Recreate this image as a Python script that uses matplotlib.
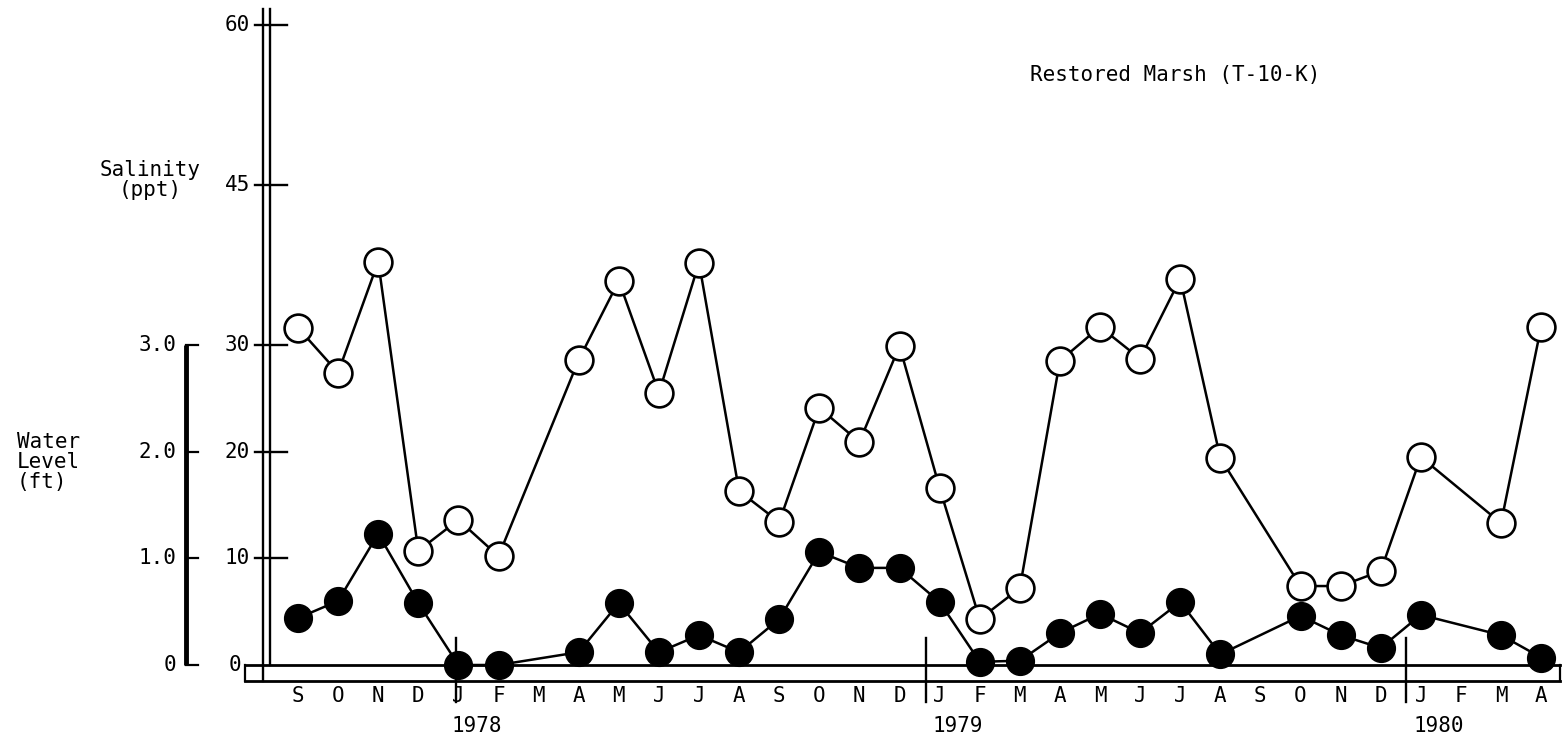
import numpy as np
import matplotlib.pyplot as plt

# months Sep 1977 .. Apr 1980
months = ['S', 'O', 'N', 'D', 'J', 'F', 'M', 'A', 'M', 'J', 'J', 'A',
          'S', 'O', 'N', 'D', 'J', 'F', 'M', 'A', 'M', 'J', 'J', 'A',
          'S', 'O', 'N', 'D', 'J', 'F', 'M', 'A']
years = ['1978', '1979', '1980']
year_start = [4, 16, 28]

# salinity (ppt), None = no sample
salinity = [31.6, 27.4, 37.8, 10.7, 13.6, 10.2, None, 28.6, 36.0, 25.5, 37.7, 16.3,
            13.4, 24.1, 20.9, 29.9, 16.6, 4.3, 7.2, 28.5, 31.7, 28.7, 36.2, 19.4,
            None, 7.4, 7.4, 8.8, 19.5, None, 13.3, 31.7]
# water level (ft)
water = [0.44, 0.60, 1.23, 0.58, 0.0, 0.0, None, 0.12, 0.58, 0.12, 0.28, 0.12,
         0.43, 1.06, 0.91, 0.91, 0.59, 0.03, 0.04, 0.30, 0.48, 0.30, 0.59, 0.10,
         None, 0.46, 0.28, 0.16, 0.47, None, 0.28, 0.07]

sal_ticks = [0, 10, 20, 30, 45, 60]
wl_ticks = [0, 1.0, 2.0, 3.0]
wl_labels = ['0', '1.0', '2.0', '3.0']

W, H = 1562, 749
fig = plt.figure(figsize=(W / 100, H / 100), dpi=100)

# pixel layout
x0_px, dx_px = 298, 40.1      # month 0 position, px per month
y0_px, dy_px = 665, 10.67     # salinity 0 position, px per ppt
left_px, right_px = 262, 1562
ylo, yhi = -2.0, 61.0
ax = fig.add_axes([left_px / W, 1 - (y0_px - ylo * dy_px) / H,
                   (right_px - left_px) / W, (yhi - ylo) * dy_px / H])
ax.set_xlim((left_px - x0_px) / dx_px, (right_px - x0_px) / dx_px)
ax.set_ylim(ylo, yhi)
ax.axis('off')

def px2x(px):
    return (px - x0_px) / dx_px

mono = 'DejaVu Sans Mono'
fs = 15

idx = np.arange(len(months))
s_idx = [i for i in idx if salinity[i] is not None]
s_val = [salinity[i] for i in s_idx]
w_idx = [i for i in idx if water[i] is not None]
w_val = [water[i] * 10 for i in w_idx]   # 1 ft = 10 ppt on the page

ax.plot(s_idx, s_val, '-', color='black', lw=1.8, marker='o', ms=20,
        mfc='white', mec='black', mew=1.9, zorder=3, clip_on=False)
ax.plot(w_idx, w_val, '-', color='black', lw=1.8, marker='o', ms=20,
        mfc='black', mec='black', zorder=4, clip_on=False)

# salinity axis: double line
xa1, xa2 = px2x(263), px2x(270)
ax.plot([xa1, xa1], [-1.5, 61.5], color='black', lw=1.7, clip_on=False)
ax.plot([xa2, xa2], [0, 61.5], color='black', lw=1.7, clip_on=False)
for t in sal_ticks:
    if t == 0:
        continue
    ax.plot([px2x(255), px2x(287)], [t, t], color='black', lw=1.7, clip_on=False)
    ax.text(px2x(250), t, str(t), ha='right', va='center', fontsize=fs,
            family=mono)
ax.text(px2x(241), 0, '0', ha='right', va='center', fontsize=fs, family=mono)

# baseline: double line
bx1, bx2 = px2x(245), px2x(1560)
ax.plot([bx1, bx2], [0, 0], color='black', lw=2.0, clip_on=False)
ax.plot([bx1, bx2], [-1.5, -1.5], color='black', lw=2.0, clip_on=False)
ax.plot([bx1, bx1], [0, -1.5], color='black', lw=1.6, clip_on=False)
ax.plot([bx2, bx2], [0, -1.5], color='black', lw=1.6, clip_on=False)

# year separators
sep_offset = [-0.05, -0.33, -0.37]
for ys, off in zip(year_start, sep_offset):
    xs = ys + off
    ax.plot([xs, xs], [2.5, -3.5], color='black', lw=1.7, clip_on=False)

# month labels
for i, m in enumerate(months):
    ax.text(i, -2.9, m, ha='center', va='center', fontsize=fs, family=mono)
for ys, yr in zip(year_start, years):
    ax.text(ys + 0.45, -5.7, yr, ha='center', va='center', fontsize=fs,
            family=mono)

# water level axis
xw = px2x(186)
ax.plot([xw, xw], [0, 30], color='black', lw=3.5, clip_on=False,
        solid_capstyle='butt')
for t, lab in zip(wl_ticks, wl_labels):
    ax.plot([xw, xw + 0.3], [t * 10, t * 10], color='black', lw=1.6,
            clip_on=False)
    ax.text(px2x(176), t * 10, lab, ha='right', va='center', fontsize=fs,
            family=mono)

# axis titles
ax.text(px2x(150), 45.5, 'Salinity\n(ppt)', ha='center', va='center',
        fontsize=fs, family=mono, linespacing=1.0)
ax.text(px2x(17), 19.0, 'Water\nLevel\n(ft)', ha='left', va='center',
        fontsize=fs, family=mono, linespacing=1.0)
ax.text(px2x(1030), 55.3, 'Restored Marsh (T-10-K)', ha='left', va='center',
        fontsize=fs, family=mono)

fig.savefig('out.png', dpi=100)
